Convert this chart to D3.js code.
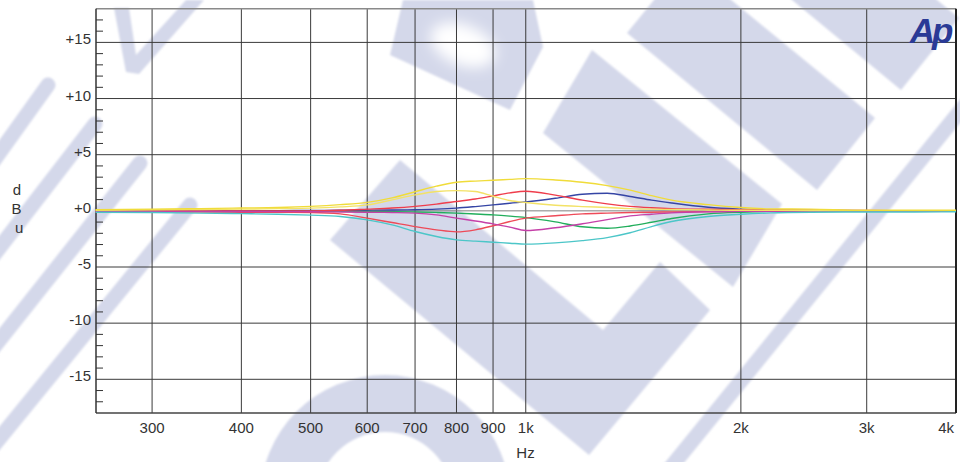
<!DOCTYPE html>
<html><head><meta charset="utf-8">
<script src="https://cdn.jsdelivr.net/npm/d3@7"></script>
<style>body{margin:0;background:#fff}svg{display:block}</style>
</head><body><div id="chart"></div>
<script>
// ---- data ----
const freqs   = [250,300,350,400,450,500,550,600,650,700,750,800,850,900,950,1000,1100,1200,1300,1400,1500,1600,1800,2000,2200,2500,3000,3500,4000];
const yellowA = [0.1,0.15,0.2,0.25,0.3,0.4,0.55,0.75,1.15,1.7,2.2,2.55,2.65,2.72,2.8,2.87,2.75,2.55,2.25,1.85,1.35,0.95,0.55,0.3,0.18,0.15,0.05,0.05,0.05];
const yellowB = [0.05,0.1,0.12,0.15,0.2,0.24,0.35,0.53,0.98,1.42,1.72,1.8,1.72,1.3,0.92,0.74,0.5,0.38,0.3,0.2,0.15,0.12,0.08,0.05,0.05,0.03,0.02,0.02,0.02];
const redA    = [0,0,0,0,0,0,0.05,0.15,0.25,0.4,0.6,0.83,1.05,1.33,1.6,1.75,1.4,0.95,0.62,0.4,0.28,0.2,0.14,0.1,0.07,0.05,0.03,0.02,0.02];
const redB    = [-0.08,-0.1,-0.1,-0.12,-0.13,-0.15,-0.27,-0.65,-1.04,-1.4,-1.69,-1.87,-1.69,-1.33,-0.95,-0.65,-0.44,-0.27,-0.2,-0.15,-0.12,-0.1,-0.07,-0.05,-0.04,-0.03,-0.02,-0.02,-0.02];
const blue    = [0,0,0,0,0.02,0.03,0.05,0.06,0.08,0.1,0.15,0.24,0.38,0.53,0.68,0.8,1.12,1.48,1.57,1.28,0.95,0.7,0.32,0.15,0.06,0.03,0.02,0,0];
const green   = [-0.05,-0.05,-0.05,-0.05,-0.05,-0.05,-0.05,-0.06,-0.08,-0.1,-0.14,-0.2,-0.28,-0.36,-0.47,-0.6,-0.98,-1.42,-1.55,-1.35,-1.02,-0.68,-0.27,-0.12,-0.05,-0.03,-0.02,-0.02,-0.02];
const magenta = [-0.05,-0.05,-0.05,-0.06,-0.07,-0.08,-0.1,-0.12,-0.15,-0.2,-0.36,-0.65,-0.9,-1.16,-1.45,-1.75,-1.5,-1.15,-0.78,-0.45,-0.3,-0.18,-0.08,-0.05,-0.03,-0.02,-0.02,-0.02,-0.02];
const cyan    = [-0.12,-0.15,-0.2,-0.25,-0.3,-0.38,-0.5,-0.8,-1.25,-1.84,-2.28,-2.58,-2.7,-2.79,-2.88,-2.96,-2.85,-2.65,-2.38,-1.95,-1.4,-0.95,-0.5,-0.3,-0.18,-0.12,-0.1,-0.1,-0.08];

const seriesNames  = ["yellowA","yellowB","redA","redB","blue","green","magenta","cyan"];
const seriesValues = [yellowA, yellowB, redA, redB, blue, green, magenta, cyan];
const seriesColors = ["#f0dc3a","#f3e266","#ef3d4c","#ee4a58","#3545a5","#22ae5c","#c540a8","#4cc6c8"];

const xTicks      = [300,400,500,600,700,800,900,1000,2000,3000,4000];
const xTickLabels = ["300","400","500","600","700","800","900","1k","2k","3k","4k"];
const yTicks      = [15,10,5,0,-5,-10,-15];
const yTickLabels = ["+15","+10","+5","+0","-5","-10","-15"];
const yMinor      = d3.range(-17,18).filter(v => v % 5 !== 0);

// ---- layout ----
const W = 960, H = 462;
const L = 96, R = 956, T = 8.7, B = 413;
const x = d3.scaleLog().domain([250,4000]).range([L-0.5, R]);
const y = d3.scaleLinear().domain([-18,18]).range([B, T]);

const svg = d3.select("#chart").append("svg").attr("width",W).attr("height",H);
const defs = svg.append("defs");
defs.append("filter").attr("id","soft").append("feGaussianBlur").attr("stdDeviation",1.2);
defs.append("filter").attr("id","softer").attr("x","-50%").attr("y","-50%").attr("width","200%").attr("height","200%")
  .append("feGaussianBlur").attr("stdDeviation",7);

// ---- watermark (decoration) ----
const WM = "#d4d8ea";
const wm = svg.append("g").attr("filter","url(#soft)");
const polys = [
  [[403,0],[533,0],[543,47],[510,110],[390,55]],
  [[114,8],[129,8],[136,55],[186,0],[204,0],[139,74],[126,72]],
  [[627,33],[817,190],[875,118],[685,-38]],
  [[543,133],[592,50],[782,204],[733,287]],
  [[711,-67],[901,90],[959,18],[769,-138]],
  [[330,240],[400,160],[603,330],[660,262],[710,310],[589,455]]
];
wm.selectAll("polygon").data(polys).enter().append("polygon")
  .attr("points", d => d.map(p => p.join(",")).join(" "))
  .attr("fill", WM);
const stripes = [[[-10,166],[48,85]],[[-10,260],[95,124]],[[-10,352],[140,163]],[[-10,450],[190,205]],[[667,472],[965,105]]];
wm.selectAll("line.st").data(stripes).enter().append("line")
  .attr("x1",d=>d[0][0]).attr("y1",d=>d[0][1]).attr("x2",d=>d[1][0]).attr("y2",d=>d[1][1])
  .attr("stroke",WM).attr("stroke-width",15).attr("stroke-linecap","round");
wm.append("circle").attr("cx",385).attr("cy",500).attr("r",125).attr("fill",WM);
svg.append("circle").attr("cx",385).attr("cy",500).attr("r",68).attr("fill","#fff").attr("filter","url(#soft)");
svg.append("ellipse").attr("cx",463).attr("cy",45).attr("rx",34).attr("ry",20)
  .attr("transform","rotate(22,463,45)").attr("fill","#fff").attr("filter","url(#softer)");

// ---- grid ----
const g = svg.append("g");
g.selectAll("line.vx").data(xTicks.slice(0,-1)).enter().append("line")
  .attr("x1",d=>x(d)).attr("x2",d=>x(d)).attr("y1",T).attr("y2",B)
  .attr("stroke","#3a3a3a").attr("stroke-width",1);
g.selectAll("line.hy").data(yTicks).enter().append("line")
  .attr("x1",L).attr("x2",R).attr("y1",d=>y(d)).attr("y2",d=>y(d))
  .attr("stroke",d=> d===0 ? "#808080" : "#3a3a3a").attr("stroke-width",1);
g.selectAll("line.mn").data(yMinor).enter().append("line")
  .attr("x1",L).attr("x2",L+7).attr("y1",d=>y(d)).attr("y2",d=>y(d))
  .attr("stroke","#333").attr("stroke-width",1);
// borders
g.append("line").attr("x1",L).attr("x2",R).attr("y1",T).attr("y2",T).attr("stroke","#8a8a8a").attr("stroke-width",1.5);
g.append("line").attr("x1",L).attr("x2",R).attr("y1",B).attr("y2",B).attr("stroke","#444").attr("stroke-width",1.5);
g.append("line").attr("x1",L).attr("x2",L).attr("y1",T).attr("y2",B).attr("stroke","#333").attr("stroke-width",1.5);
g.append("line").attr("x1",R).attr("x2",R).attr("y1",T).attr("y2",B).attr("stroke","#222").attr("stroke-width",2);

// ---- curves ----
const line = d3.line().x(d=>x(d[0])).y(d=>y(d[1])).curve(d3.curveMonotoneX);
const order = [4,5,3,2,6,1,0,7];
svg.append("g").selectAll("path").data(order).enter().append("path")
  .attr("d", i => line(freqs.map((f,k)=>[f, seriesValues[i][k]])))
  .attr("fill","none").attr("stroke", i => seriesColors[i]).attr("stroke-width",1.4)
  .attr("class", i => seriesNames[i]);

// ---- labels ----
const font = "'Liberation Sans', Arial, sans-serif";
svg.append("g").selectAll("text").data(xTicks).enter().append("text")
  .attr("x",(d,i)=> i===xTicks.length-1 ? 954 : x(d))
  .attr("y",432.5)
  .attr("text-anchor",(d,i)=> i===xTicks.length-1 ? "end" : "middle")
  .attr("font-family",font).attr("font-size",15).attr("fill","#333")
  .text((d,i)=>xTickLabels[i]);
svg.append("g").selectAll("text").data(yTicks).enter().append("text")
  .attr("x",91).attr("y",d=>y(d)+2)
  .attr("text-anchor","end")
  .attr("font-family",font).attr("font-size",15).attr("fill","#333")
  .text((d,i)=>yTickLabels[i]);
svg.append("text").attr("x",525.5).attr("y",458).attr("text-anchor","middle")
  .attr("font-family",font).attr("font-size",15).attr("fill","#333").text("Hz");
[["d",16.8,195],["B",16.4,214.3],["u",19.2,233]].forEach(([t,xx,yy])=>{
  svg.append("text").attr("x",xx).attr("y",yy).attr("text-anchor","middle")
    .attr("font-family",font).attr("font-size",15).attr("fill","#333").text(t);
});
svg.append("text").attr("x",930).attr("y",43).attr("text-anchor","middle")
  .attr("font-family",font).attr("font-size",35).attr("font-weight","bold").attr("font-style","italic")
  .attr("letter-spacing",-3).attr("fill","#2a3a96").text("Ap");
</script>
</body></html>
